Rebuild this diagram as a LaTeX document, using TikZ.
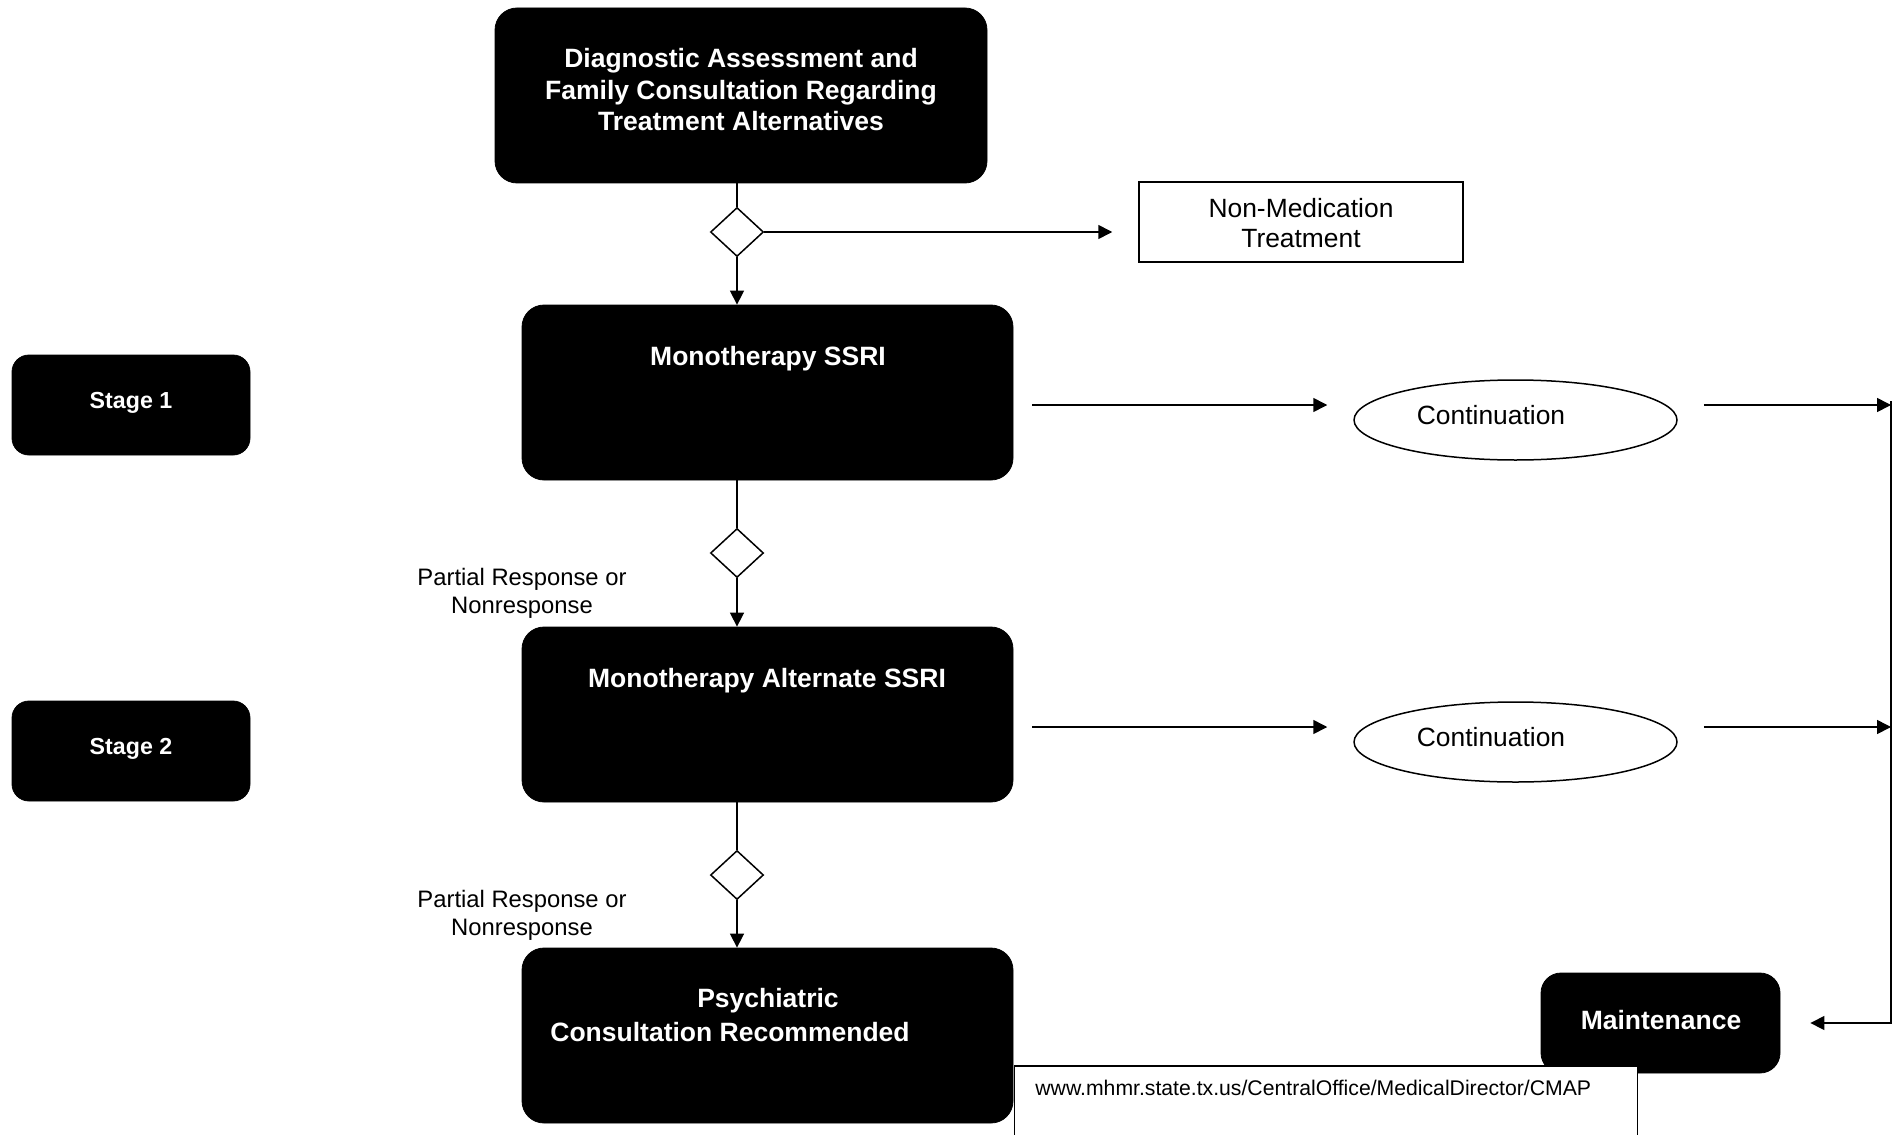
\documentclass[tikz,border=0pt]{standalone}
\usepackage{fontspec}
\setmainfont{Liberation Sans}
\usetikzlibrary{arrows.meta,shapes.geometric}
\begin{document}
\begin{tikzpicture}[x=0.5pt,y=-0.5pt,
  blk/.style={draw=black,fill=black,rounded corners=11pt,inner sep=0pt},
  wt/.style={text=white,font=\bfseries\fontsize{13.25}{15.75}\selectfont,align=center,inner sep=0pt},
  rg/.style={text=black,font=\fontsize{13.2}{15}\selectfont,align=center,inner sep=0pt},
  lbl/.style={text=black,font=\fontsize{11.9}{14}\selectfont,align=center,inner sep=0pt},
  dia/.style={draw=black,line width=0.75pt,diamond,inner sep=0pt,minimum width=26.5pt,minimum height=24.5pt},
  ell/.style={draw=black,line width=0.75pt,ellipse,inner sep=0pt,minimum width=161.5pt,minimum height=40pt},
  ln/.style={draw=black,line width=0.75pt},
  arr/.style={ln,-{Triangle[length=7pt,width=7pt]}},
]
\useasboundingbox (0,0) rectangle (1898,1134);
\fill[white] (0,0) rectangle (1898,1134);

% main black boxes
\node[blk,minimum width=246pt,minimum height=87.5pt] (top) at (741,95.5) {};
\node[wt] (ttop) at (741,90) {Diagnostic Assessment and\\Family Consultation Regarding\\Treatment Alternatives};

\node[blk,minimum width=245.5pt,minimum height=87.5pt] (m1) at (767.5,392.5) {};
\node[wt] (tm1) at (768,359) {Monotherapy SSRI};

\node[blk,minimum width=245.5pt,minimum height=87.5pt] (m2) at (767.5,714.5) {};
\node[wt] (tm2) at (767,681) {Monotherapy Alternate SSRI};

\node[blk,minimum width=245.5pt,minimum height=87.5pt] (m3) at (767.5,1035.5) {};
\node[wt] (tm3a) at (768,1001) {Psychiatric};
\node[wt] (tm3b) at (730,1032) {Consultation Recommended};

% stage boxes
\node[blk,rounded corners=8.5pt,minimum width=119pt,minimum height=50pt] (s1) at (131,405) {};
\node[wt,font=\bfseries\fontsize{11.6}{14}\selectfont] (ts1) at (131,403) {Stage 1};
\node[blk,rounded corners=8.5pt,minimum width=119pt,minimum height=50pt] (s2) at (131,751) {};
\node[wt,font=\bfseries\fontsize{11.6}{14}\selectfont] (ts2) at (131,749) {Stage 2};

% maintenance
\node[blk,rounded corners=10pt,minimum width=119.5pt,minimum height=50pt] (mt) at (1660.5,1023) {};
\node[wt] (tmt) at (1661,1020) {Maintenance};

% non-medication box
\node[draw=black,line width=0.75pt,fill=white,minimum width=162pt,minimum height=40pt,inner sep=0pt] (nm) at (1301,222) {};
\node[rg] (tnm) at (1301,223) {Non-Medication\\Treatment};

% diamonds
\node[dia] (d1) at (737,232) {};
\node[dia] (d2) at (737,553) {};
\node[dia] (d3) at (737,875) {};

% continuation ellipses
\node[ell] (c1) at (1515.5,420) {};
\node[rg] (tc1) at (1491,415) {Continuation};
\node[ell] (c2) at (1515.5,742) {};
\node[rg] (tc2) at (1491,737) {Continuation};

% labels
\node[lbl] (p1) at (522,593) {Partial Response or\\Nonresponse};
\node[lbl] (p2) at (522,915) {Partial Response or\\Nonresponse};

% coordinates on the right bus
\coordinate (vr1) at (1891,405);
\coordinate (vr2) at (1891,727);
\coordinate (vb) at (1891,1023);

% vertical flow
\draw[ln] (d1.north |- top.south) -- (d1.north);
\draw[arr] (d1.south) -- (d1.south |- m1.north);
\draw[arr,shorten >=13pt] (d1.east) -- (d1.east -| nm.west);
\draw[ln] (d2.north |- m1.south) -- (d2.north);
\draw[arr] (d2.south) -- (d2.south |- m2.north);
\draw[ln] (d3.north |- m2.south) -- (d3.north);
\draw[arr] (d3.south) -- (d3.south |- m3.north);

% horizontal arrows
\draw[arr,shorten <=9.5pt,shorten >=13pt] (m1.east |- vr1) -- (c1.west |- vr1);
\draw[arr,shorten <=13pt] (c1.east |- vr1) -- (vr1);
\draw[arr,shorten <=9.5pt,shorten >=13pt] (m2.east |- vr2) -- (c2.west |- vr2);
\draw[arr,shorten <=13pt] (c2.east |- vr2) -- (vr2);
\draw[arr,shorten >=15pt] ([yshift=2pt]vr1) -- (vb) -- (mt.east |- vb);

% url box
\node[draw=black,line width=0.6pt,fill=white,anchor=north west,minimum width=311.5pt,minimum height=50pt,inner sep=0pt] (url) at (1014,1066) {};
\draw[line width=1.3pt] (url.north west) -- (url.north east);
\node[text=black,font=\fontsize{10.6}{12}\selectfont,anchor=west,inner sep=0pt] (turl) at (1035,1088) {www.mhmr.state.tx.us/CentralOffice/MedicalDirector/CMAP};
\end{tikzpicture}
\end{document}
